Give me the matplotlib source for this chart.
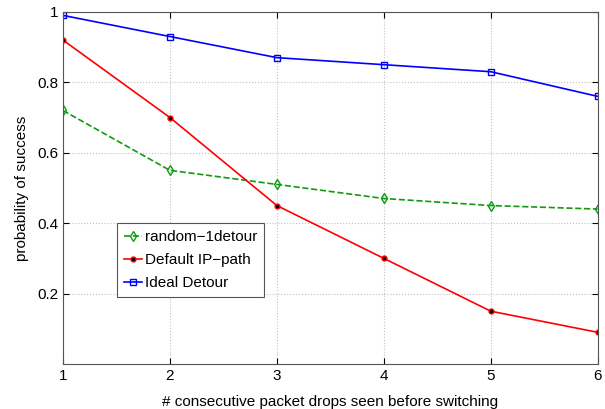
import matplotlib
matplotlib.use("Agg")
import matplotlib.pyplot as plt

x = [1, 2, 3, 4, 5, 6]
random_1detour = [0.72, 0.55, 0.51, 0.47, 0.45, 0.44]
default_ip_path = [0.92, 0.70, 0.45, 0.30, 0.15, 0.09]
ideal_detour = [0.99, 0.93, 0.87, 0.85, 0.83, 0.76]
yticks = [0.2, 0.4, 0.6, 0.8, 1.0]
yticklabels = ["0.2", "0.4", "0.6", "0.8", "1"]

plt.rcParams['font.family'] = ['Liberation Sans', 'DejaVu Sans']
fig = plt.figure(figsize=(6.05, 4.09), dpi=100)
ax = fig.add_axes([0.104, 0.110, 0.884, 0.861])

ax.plot(x, random_1detour, color='#109a10', linestyle='--', marker='d', markersize=5,
        markerfacecolor='none', markeredgecolor='#109a10', lw=1.2, label='random\u22121detour')
ax.plot(x, default_ip_path, color='#ff0000', linestyle='-', marker='o', markersize=3.5,
        markerfacecolor='#000000', markeredgecolor='#ff0000', lw=1.2, label='Default IP\u2212path')
ax.plot(x, ideal_detour, color='#0000ff', linestyle='-', marker='s', markersize=4.5,
        markerfacecolor='none', markeredgecolor='#0000ff', lw=1.2, label='Ideal Detour')

ax.set_xlim(1, 6)
ax.set_ylim(0, 1)
ax.set_xticks(x)
ax.set_yticks(yticks)
ax.set_yticklabels(yticklabels)
ax.grid(True, linestyle=':', color='#c0c0c0', lw=0.8)
ax.tick_params(direction='in', top=True, right=True, labelsize=11, length=4)
for s in ax.spines.values():
    s.set_color('#555555')
    s.set_linewidth(0.8)
ax.set_xlabel('# consecutive packet drops seen before switching', fontsize=11, labelpad=9)
ax.set_ylabel('probability of success', fontsize=11, labelpad=6)

leg = ax.legend(loc='lower left', bbox_to_anchor=(0.101, 0.19), borderaxespad=0, fontsize=11,
                handlelength=1.2, handletextpad=0.2, borderpad=0.45, labelspacing=0.6,
                fancybox=False, framealpha=1, edgecolor='#555555')
leg.get_frame().set_linewidth(0.8)

fig.savefig('out.png', dpi=100)
